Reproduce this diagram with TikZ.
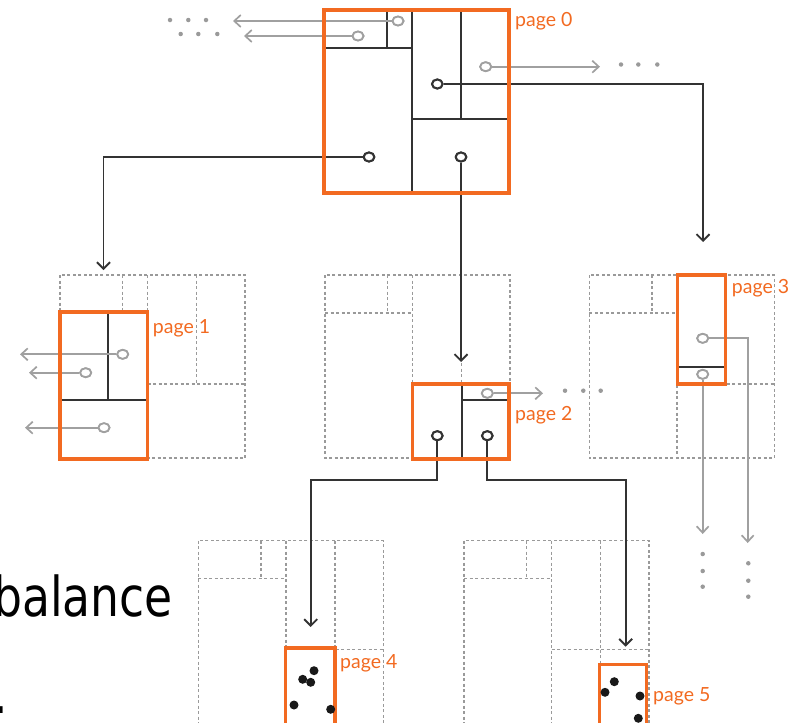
\documentclass[tikz,border=0pt]{standalone}
\usepackage{fontspec}
\setmainfont{Lato}
\newfontfamily\balfont{DejaVu Sans}
\usetikzlibrary{arrows.meta,shapes.geometric}
\definecolor{pgorange}{HTML}{F26A21}
\definecolor{dk}{HTML}{333333}
\definecolor{gr}{HTML}{A0A0A0}
\definecolor{dg}{HTML}{9A9A9A}
\newcommand{\dashgrid}[2]{%
  \begin{scope}[shift={(#1,#2)}]
    \draw[gridline] (0,0) rectangle (185,183);
    \draw[gridline] (87.7,0)--(87.7,183) (0,38)--(87.7,38) (62.7,0)--(62.7,38)
      (136.7,0)--(136.7,109) (87.7,109)--(185,109);
  \end{scope}}
\begin{document}
\begin{tikzpicture}[x=1pt,y=-1pt,
  gridline/.style={draw=dg,line width=1.2pt,dash pattern=on 3pt off 2.5pt},
  pagebox/.style={draw=pgorange,line width=3.2pt},
  inner/.style={draw=dk,line width=1.9pt},
  dkline/.style={draw=dk,line width=1.9pt,-{Straight Barb[length=6.5pt,width=13pt,line width=1.9pt]}},
  grline/.style={draw=gr,line width=1.7pt,-{Straight Barb[length=6.5pt,width=12pt,line width=1.7pt]}},
  dkc/.style={ellipse,draw=dk,fill=white,line width=2pt,minimum width=10.5pt,minimum height=9pt,inner sep=0pt},
  grc/.style={ellipse,draw=gr,fill=white,line width=1.8pt,minimum width=11pt,minimum height=9pt,inner sep=0pt},
  edot/.style={circle,fill=dg,minimum size=4.5pt,inner sep=0pt},
  bdot/.style={circle,fill=black!90,minimum size=9pt,inner sep=0pt},
  plabel/.style={text=pgorange,anchor=west,inner sep=0pt,font=\fontsize{19.5}{20}\selectfont}
]
\useasboundingbox (0,0) rectangle (790,723);

% dashed grids
\dashgrid{60}{275}
\dashgrid{325}{275}
\dashgrid{589.3}{275}
\dashgrid{198.3}{540.7}
\dashgrid{464}{540.7}
\draw[gridline] (600.7,649.7)--(600.7,664.3);

% big text
\node[anchor=base east,inner sep=0pt,xscale=0.83,font=\balfont\fontsize{55}{60}\selectfont] (bal) at (173,616.7) {balance};
\node[anchor=base west,inner sep=0pt,xscale=0.83,font=\balfont\fontsize{55}{60}\selectfont] (per) at (-6.3,713.3) {.};

% inner partitions
\draw[inner] (411.7,10)--(411.7,193) (324,48)--(411.7,48) (386.7,10)--(386.7,48)
  (460.7,10)--(460.7,119) (411.7,119)--(509,119);
\draw[inner] (60,400)--(147.7,400) (108.3,312)--(108.3,400);
\draw[inner] (462.3,384)--(462.3,459) (462.3,400)--(509,400);
\draw[inner] (677.3,367.3)--(725.7,367.3);

% circles
\node[grc] (c0a) at (398,21) {};
\node[grc] (c0b) at (358,36) {};
\node[grc] (c0c) at (485.7,66.7) {};
\node[dkc] (c0d) at (437.3,84) {};
\node[dkc] (c0e) at (369,157) {};
\node[dkc] (c0f) at (461,157) {};
\node[grc] (c1a) at (122.7,354.3) {};
\node[grc] (c1b) at (85.7,372.7) {};
\node[grc] (c1c) at (104,427.7) {};
\node[grc] (c2a) at (487.3,393.3) {};
\node[dkc] (c2b) at (437.3,435.7) {};
\node[dkc] (c2c) at (487.3,435.7) {};
\node[grc] (c3a) at (702.7,338.3) {};
\node[grc] (c3b) at (702.7,374.3) {};

% end coordinates
\coordinate (e0a) at (233,21);
\coordinate (e0b) at (244,36);
\coordinate (e0c) at (600,66.7);
\coordinate (e0d) at (703,242);
\coordinate (e0e) at (103.5,270);
\coordinate (e0f) at (461,362);
\coordinate (e1a) at (20,354.3);
\coordinate (e1b) at (29,372.7);
\coordinate (e1c) at (25,427.7);
\coordinate (e2a) at (543,393.3);
\coordinate (k2b) at (437.3,480);
\coordinate (e2b) at (310.7,627);
\coordinate (k2c) at (487.3,480);
\coordinate (e2c) at (625.7,646.7);
\coordinate (e3a) at (747.7,543);
\coordinate (e3b) at (702.7,534);

% connectors
\draw[grline] (c0a) -- (e0a);
\draw[grline] (c0b) -- (e0b);
\draw[grline] (c0c) -- (e0c);
\draw[dkline] (c0d) -| (e0d);
\draw[dkline] (c0e) -| (e0e);
\draw[dkline] (c0f) -- (e0f);
\draw[grline] (c1a) -- (e1a);
\draw[grline] (c1b) -- (e1b);
\draw[grline] (c1c) -- (e1c);
\draw[grline] (c2a) -- (e2a);
\draw[dkline] (c2b) -- (k2b) -| (e2b);
\draw[dkline] (c2c) -- (k2c) -| (e2c);
\draw[grline] (c3a) -| (e3a);
\draw[grline] (c3b) -- (e3b);

% page boxes
\draw[pagebox] (324,10) rectangle (509,193);
\draw[pagebox] (60,312) rectangle (147.7,459);
\draw[pagebox] (412.7,384) rectangle (509,459);
\draw[pagebox] (677.3,275) rectangle (725.7,384);
\draw[pagebox] (285.7,648) rectangle (335,730);
\draw[pagebox] (599.3,664.3) rectangle (646.7,730);

% redraw circles on top
\foreach \c in {c0a,c0b,c0c,c1a,c1b,c1c,c2a,c3a,c3b}{\node[grc] at (\c) {};}
\foreach \c in {c0d,c0e,c0f,c2b,c2c}{\node[dkc] at (\c) {};}

% ellipsis dots
\node[edot] (d1) at (170,20) {};
\node[edot] (d2) at (188.3,20) {};
\node[edot] (d3) at (206,20) {};
\node[edot] (d4) at (180.7,34) {};
\node[edot] (d5) at (198.3,34) {};
\node[edot] (d6) at (217.3,34) {};
\node[edot] (d7) at (621,64.5) {};
\node[edot] (d8) at (638.3,64.5) {};
\node[edot] (d9) at (657.3,64.5) {};
\node[edot] (d10) at (565,390.7) {};
\node[edot] (d11) at (583.3,390.7) {};
\node[edot] (d12) at (600.7,390.7) {};
\node[edot] (d13) at (702.7,554) {};
\node[edot] (d14) at (702.7,571) {};
\node[edot] (d15) at (702.7,586.7) {};
\node[edot] (d16) at (748.3,563.3) {};
\node[edot] (d17) at (748.3,580.7) {};
\node[edot] (d18) at (748.3,596.7) {};

% data points
\node[bdot] (p4a) at (314,670.7) {};
\node[bdot] (p4b) at (302.7,679.3) {};
\node[bdot] (p4c) at (310.7,682.3) {};
\node[bdot] (p4d) at (294,705) {};
\node[bdot] (p4e) at (330.7,709.3) {};
\node[bdot] (p5a) at (614.3,681.7) {};
\node[bdot] (p5b) at (605,692.3) {};
\node[bdot] (p5c) at (640,696) {};
\node[bdot] (p5d) at (638.3,718.3) {};

% labels
\node[plabel] (l0) at (515,21) {page 0};
\node[plabel] (l1) at (152.7,327.8) {page 1};
\node[plabel] (l2) at (515,415) {page 2};
\node[plabel] (l3) at (731.7,288.3) {page 3};
\node[plabel] (l4) at (340,663.3) {page 4};
\node[plabel] (l5) at (653,696.7) {page 5};
\end{tikzpicture}
\end{document}
